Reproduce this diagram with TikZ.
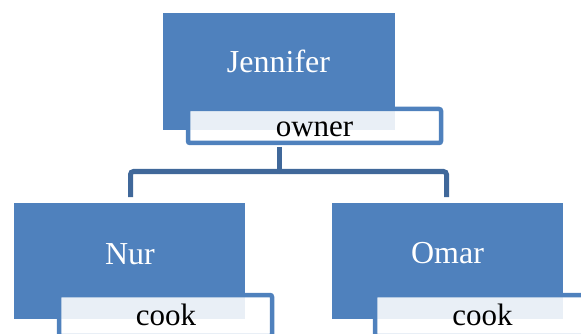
\documentclass[tikz,border=0pt]{standalone}
\usepackage{fontspec}
\setmainfont{Liberation Serif}
\definecolor{boxblue}{HTML}{4F81BD}
\definecolor{linkblue}{HTML}{40689A}
\tikzset{
  person/.style={fill=boxblue, inner sep=0pt, minimum width=231pt, minimum height=116pt},
  rolebox/.style={draw=boxblue, line width=4.5pt, fill=white, fill opacity=0.88, rounded corners=2pt, inner sep=0pt},
  nametext/.style={text=white, font=\fontsize{32}{32}\selectfont, anchor=base, inner sep=0pt},
  roletext/.style={text=black, font=\fontsize{31}{31}\selectfont, anchor=base, inner sep=0pt},
  link/.style={draw=linkblue, line width=5pt, rounded corners=3pt}
}
\begin{document}
\begin{tikzpicture}[x=1pt,y=-1pt]
\useasboundingbox (0,0) rectangle (581,334);
\clip (0,0) rectangle (581,334);
% person boxes
\node[person, minimum width=232pt, minimum height=117pt] (jen) at (279,71.5) {};
\node[person] (nur) at (129.5,261) {};
\node[person] (omar) at (447.5,261) {};
% role boxes
\node[rolebox, minimum width=253pt, minimum height=34pt] (owner) at (314.5,126) {};
\node[rolebox, minimum width=213pt, minimum height=41pt] (cook1) at (165.5,315.5) {};
\node[rolebox, minimum width=213pt, minimum height=41pt] (cook2) at (481.5,315.5) {};
% texts
\node[nametext] (jent) at (278.5,73) {Jennifer};
\node[nametext] (nurt) at (130,264) {Nur};
\node[nametext] (omart) at (447.5,263.5) {Omar};
\node[roletext] (ownert) at (314.5,137) {owner};
\node[roletext] (cook1t) at (166,325) {cook};
\node[roletext] (cook2t) at (482.5,325) {cook};
% connectors
\coordinate (hub) at (279,171.5);
\coordinate (nurtop) at (130.5,197);
\coordinate (omartop) at (446.5,197);
\draw[link] (279,147) -- (hub);
\draw[link] (hub) -| (nurtop);
\draw[link] (hub) -| (omartop);
\end{tikzpicture}
\end{document}
